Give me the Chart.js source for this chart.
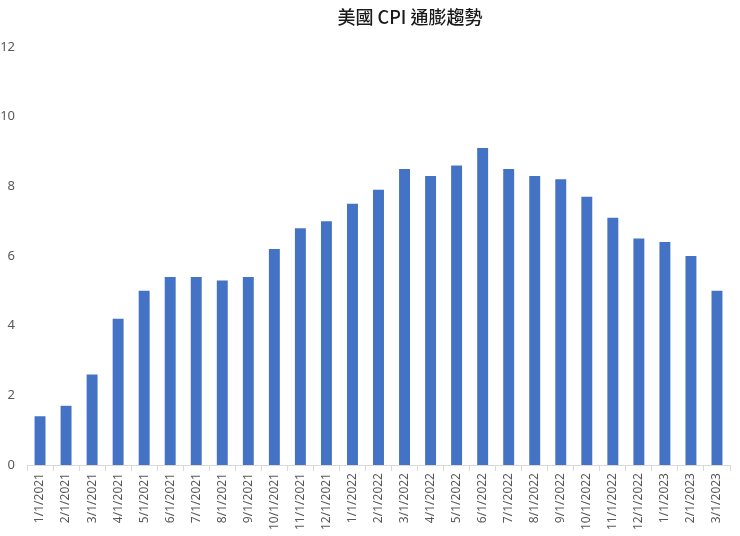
<!DOCTYPE html>
<html>
<head>
<meta charset="utf-8">
<script src="https://cdn.jsdelivr.net/npm/chart.js@4.4.0/dist/chart.umd.min.js"></script>
<style>
  html, body { margin: 0; padding: 0; background: #fff; }
  #wrap { width: 740px; height: 536px; position: relative; }
</style>
</head>
<body>
<div id="wrap"><canvas id="cpi"></canvas></div>
<script>
// 美國 CPI 年增率 (%)
const months = [
  '1/1/2021', '2/1/2021', '3/1/2021', '4/1/2021', '5/1/2021', '6/1/2021',
  '7/1/2021', '8/1/2021', '9/1/2021', '10/1/2021', '11/1/2021', '12/1/2021',
  '1/1/2022', '2/1/2022', '3/1/2022', '4/1/2022', '5/1/2022', '6/1/2022',
  '7/1/2022', '8/1/2022', '9/1/2022', '10/1/2022', '11/1/2022', '12/1/2022',
  '1/1/2023', '2/1/2023', '3/1/2023'
];
const cpiValues = [
  1.4, 1.7, 2.6, 4.2, 5.0, 5.4, 5.4, 5.3, 5.4, 6.2, 6.8, 7.0,
  7.5, 7.9, 8.5, 8.3, 8.6, 9.1, 8.5, 8.3, 8.2, 7.7, 7.1, 6.5,
  6.4, 6.0, 5.0
];
const yTicks = [0, 2, 4, 6, 8, 10, 12];
const chartTitle = '美國 CPI 通膨趨勢';

const FONT = "'Noto Sans', 'Noto Sans CJK TC', sans-serif";
const LABEL_COLOR = '#595959';
const AXIS_COLOR = '#d9d9d9';

// titre placé un peu à droite du centre, comme dans l'original
const titlePlugin = {
  id: 'offsetTitle',
  afterDraw(chart) {
    const ctx = chart.ctx;
    ctx.save();
    ctx.font = "500 18px 'Noto Sans CJK TC', 'Noto Sans', sans-serif";
    ctx.fillStyle = '#1a1a1a';
    ctx.textAlign = 'center';
    ctx.textBaseline = 'middle';
    ctx.fillText(chartTitle, 410, 17);
    ctx.restore();
  }
};

new Chart(document.getElementById('cpi'), {
  type: 'bar',
  data: {
    labels: months,
    datasets: [{
      label: 'CPI',
      data: cpiValues,
      backgroundColor: '#4472C4',
      borderWidth: 0,
      barPercentage: 0.42,
      categoryPercentage: 1.0
    }]
  },
  options: {
    responsive: true,
    maintainAspectRatio: false,
    animation: false,
    layout: { padding: { top: 47, right: 10, bottom: 4, left: 0 } },
    plugins: {
      legend: { display: false },
      title: { display: false },
      tooltip: { enabled: false }
    },
    scales: {
      x: {
        grid: {
          display: true,
          drawOnChartArea: false,
          offset: true,
          tickLength: 6,
          color: AXIS_COLOR
        },
        border: { display: true, color: AXIS_COLOR },
        ticks: {
          color: LABEL_COLOR,
          font: { family: FONT, size: 12 },
          minRotation: 90,
          maxRotation: 90,
          autoSkip: false,
          padding: 2
        }
      },
      y: {
        min: 0,
        max: 12,
        afterBuildTicks(scale) {
          scale.ticks = yTicks.map(v => ({ value: v }));
        },
        afterFit(scale) { scale.width = 27; },
        grid: { display: false, drawTicks: false },
        border: { display: false },
        ticks: {
          color: LABEL_COLOR,
          font: { family: FONT, size: 13 },
          padding: 12
        }
      }
    }
  },
  plugins: [titlePlugin]
});
</script>
</body>
</html>
